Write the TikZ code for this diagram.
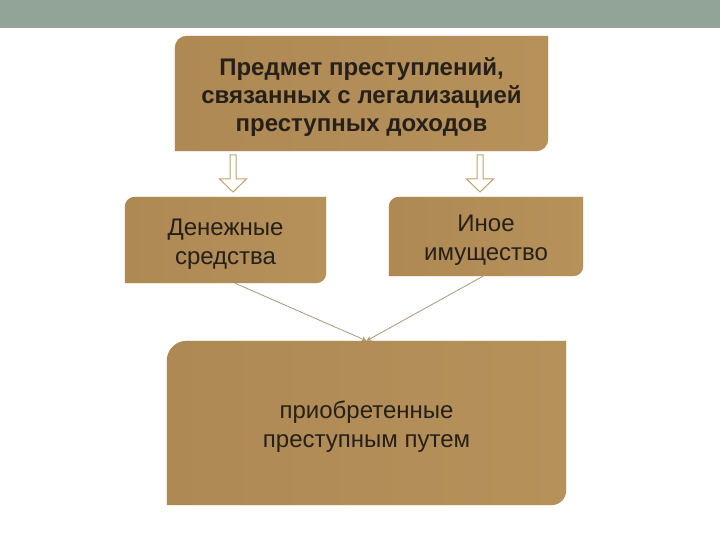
\documentclass[tikz,border=0pt]{standalone}
\usepackage{fontspec}
\setmainfont{Liberation Sans}
\usetikzlibrary{calc,arrows.meta,backgrounds}
\definecolor{barcol}{RGB}{146,163,151}
\definecolor{goldL}{RGB}{174,137,84}
\definecolor{goldM}{RGB}{153,117,70}
\definecolor{goldR}{RGB}{182,145,90}
\definecolor{txt}{RGB}{38,32,26}
\definecolor{arrowcol}{RGB}{190,162,112}
\definecolor{linecol}{RGB}{172,152,122}
\newcommand\slabpath[3]{(#1.south west) -- ($(#1.north west)+(0,-#2)$) arc[start angle=180,end angle=90,radius=#2] -- (#1.north east) -- ($(#1.south east)+(0,#3)$) arc[start angle=0,end angle=-90,radius=#3] -- cycle}
\newcommand\slab[3]{%
  \fill[black,opacity=0.18,shift={(1.5,-2)}] \slabpath{#1}{#2}{#3};
  \shade[left color=goldL, middle color=goldM, right color=goldR] \slabpath{#1}{#2}{#3};}
\newcommand\hollowarrow[3]{% x, top y, bottom y
  \filldraw[draw=arrowcol, fill=white, line width=1pt]
    (#1-3,#2) -- (#1+3,#2) -- (#1+3,#3+13) -- (#1+13.5,#3+13) -- (#1,#3)
    -- (#1-13.5,#3+13) -- (#1-3,#3+13) -- cycle;}
\newcommand\lowtext[1]{\raisebox{-4pt}[\height][\depth]{\begin{tabular}{@{}c@{}}#1\end{tabular}}}
\tikzset{
  box/.style={draw=none, text=txt, inner sep=0pt},
  titlebox/.style={box, font=\fontsize{24}{28}\selectfont\bfseries},
  plainbox/.style={box, font=\fontsize{24}{29}\selectfont},
  link/.style={draw=linecol, line width=0.8pt, -{Stealth[length=5pt,width=5pt]}}
}
\begin{document}
\begin{tikzpicture}[x=1pt,y=1pt]
\useasboundingbox (0,0) rectangle (720,540);
\node[titlebox, minimum width=373pt, minimum height=115pt] (p) at (361.5,446.5)
  {\lowtext{Предмет преступлений,\\связанных с легализацией\\преступных доходов}};
\node[plainbox, minimum width=201pt, minimum height=86pt] (m) at (225.5,300)
  {\lowtext{Денежные\\средства}};
\node[plainbox, minimum width=194pt, minimum height=79pt] (o) at (486,303.5)
  {\lowtext{Иное\\имущество}};
\node[plainbox, minimum width=399pt, minimum height=164pt] (c) at (366.5,117)
  {\lowtext{приобретенные\\преступным путем}};
\begin{pgfonlayer}{background}
  \fill[white] (0,0) rectangle (720,540);
  \fill[barcol] (0,512) rectangle (720,540);
  \slab{p}{12}{12}
  \slab{m}{10}{10}
  \slab{o}{10}{10}
  \slab{c}{20}{15}
\end{pgfonlayer}
\hollowarrow{233}{385}{348}
\hollowarrow{480}{385}{348}
\draw[link] ([xshift=9.5pt]m.south) -- (c.north);
\draw[link] ([xshift=-3pt]o.south) -- (c.north);
\end{tikzpicture}
\end{document}
